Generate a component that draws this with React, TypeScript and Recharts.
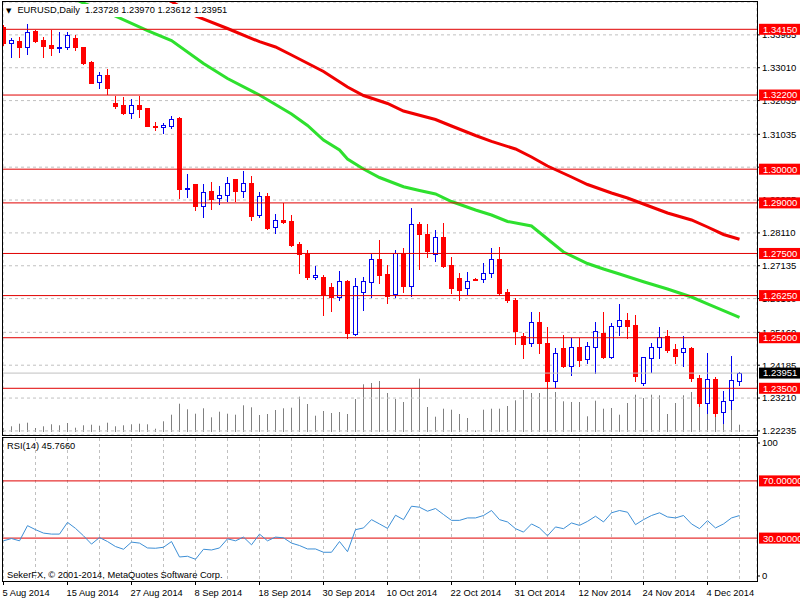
import React from "react";
import {
  ComposedChart,
  Bar,
  Line,
  XAxis,
  YAxis,
  CartesianGrid,
  ReferenceLine,
} from "recharts";

const FONT = "'Liberation Sans', Arial, sans-serif";
const FS = 9.3;
const AXIS_FS = 9.5;

// EURUSD daily bars, 5 Aug 2014 .. 10 Dec 2014 (one entry per bar)
const opens = [
  1.34227, 1.33752, 1.33811, 1.33616, 1.34099, 1.33832, 1.33684, 1.33586, 1.33616, 1.33901,
  1.33616, 1.33189, 1.32577, 1.32794, 1.31972, 1.31895, 1.31658, 1.31895, 1.31824, 1.31281,
  1.31266, 1.31281, 1.31509, 1.29403, 1.2956, 1.28916, 1.29352, 1.29136, 1.29234, 1.29699,
  1.29361, 1.29581, 1.28641, 1.29204, 1.28293, 1.28492, 1.28471, 1.2778, 1.27483, 1.26801,
  1.2681, 1.26504, 1.26217, 1.26682, 1.25101, 1.26356, 1.26662, 1.27335, 1.2689, 1.26297,
  1.27504, 1.26543, 1.28365, 1.28068, 1.27483, 1.27979, 1.27157, 1.26762, 1.26466, 1.26751,
  1.26733, 1.26929, 1.27326, 1.26365, 1.26119, 1.2506, 1.24834, 1.25457, 1.24853, 1.23725,
  1.24686, 1.24161, 1.24716, 1.2436, 1.24734, 1.25131, 1.24437, 1.25348, 1.25526, 1.25378,
  1.23666, 1.2439, 1.24716, 1.2506, 1.24666, 1.24586, 1.24704, 1.23796, 1.23055, 1.23767,
  1.22806, 1.23153, 1.23728,
];
const highs = [
  1.34277, 1.33883, 1.3393, 1.34307, 1.34129, 1.33912, 1.34129, 1.34079, 1.34079, 1.33981,
  1.3363, 1.33195, 1.32892, 1.32963, 1.32171, 1.32132, 1.32073, 1.3218, 1.3183, 1.31409,
  1.31361, 1.31578, 1.31548, 1.29857, 1.2957, 1.2956, 1.29611, 1.29501, 1.29777, 1.2971,
  1.29937, 1.29798, 1.29323, 1.29302, 1.2867, 1.28987, 1.28632, 1.27848, 1.27602, 1.27127,
  1.2686, 1.26623, 1.26979, 1.26712, 1.26763, 1.2681, 1.27484, 1.27899, 1.27157, 1.27602,
  1.27653, 1.28839, 1.28442, 1.28374, 1.28196, 1.28394, 1.27385, 1.26929, 1.26958, 1.26771,
  1.27207, 1.27653, 1.27682, 1.26445, 1.26169, 1.25131, 1.25772, 1.25772, 1.25327, 1.24686,
  1.25081, 1.24983, 1.24983, 1.24882, 1.25457, 1.25772, 1.25428, 1.26001, 1.25725, 1.25674,
  1.24437, 1.24853, 1.25327, 1.25229, 1.24814, 1.2506, 1.24734, 1.23894, 1.24538, 1.23826,
  1.2342, 1.24458, 1.2397,
];
const lows = [
  1.33684, 1.33319, 1.33337, 1.33408, 1.33782, 1.33337, 1.33387, 1.33467, 1.33565, 1.33536,
  1.3312, 1.32548, 1.32399, 1.3223, 1.31806, 1.31637, 1.31509, 1.31557, 1.31281, 1.31162,
  1.31082, 1.31213, 1.29136, 1.29183, 1.28789, 1.28572, 1.2881, 1.28967, 1.29065, 1.29065,
  1.29183, 1.28492, 1.28581, 1.28216, 1.28115, 1.28394, 1.27721, 1.26929, 1.26733, 1.26733,
  1.25674, 1.25801, 1.26119, 1.24983, 1.25081, 1.25822, 1.26217, 1.26623, 1.26021, 1.26199,
  1.26356, 1.26237, 1.2703, 1.27403, 1.27285, 1.27107, 1.26335, 1.26119, 1.26297, 1.26703,
  1.26662, 1.2681, 1.26267, 1.26059, 1.24813, 1.24389, 1.24755, 1.24556, 1.235, 1.23547,
  1.2414, 1.23894, 1.24161, 1.24241, 1.23962, 1.24407, 1.24399, 1.25081, 1.24983, 1.23725,
  1.23598, 1.23992, 1.2439, 1.24586, 1.24259, 1.24161, 1.23725, 1.22975, 1.22758, 1.22678,
  1.22461, 1.22877, 1.23612,
];
const closes = [
  1.33734, 1.33832, 1.33616, 1.34079, 1.33811, 1.33663, 1.33604, 1.33634, 1.33981, 1.33616,
  1.33159, 1.32565, 1.32785, 1.32399, 1.31874, 1.31658, 1.31895, 1.31785, 1.3129, 1.31251,
  1.31311, 1.31489, 1.29403, 1.2945, 1.28916, 1.29332, 1.29115, 1.29225, 1.29599, 1.29361,
  1.29581, 1.28611, 1.29204, 1.28264, 1.28492, 1.28433, 1.2775, 1.27483, 1.26792, 1.26846,
  1.26267, 1.26199, 1.26682, 1.25131, 1.26534, 1.26682, 1.27335, 1.2686, 1.26237, 1.27504,
  1.26543, 1.28365, 1.28068, 1.27572, 1.27979, 1.27128, 1.26466, 1.26415, 1.26682, 1.26721,
  1.26929, 1.27326, 1.26335, 1.26119, 1.25208, 1.24813, 1.25457, 1.24834, 1.23725, 1.24538,
  1.24161, 1.24716, 1.24339, 1.24755, 1.25208, 1.24437, 1.25348, 1.25526, 1.25357, 1.23865,
  1.24419, 1.24716, 1.2503, 1.24636, 1.24467, 1.24686, 1.23796, 1.23055, 1.23767, 1.22776,
  1.23132, 1.23746, 1.23951,
];
// tick volumes
const volumes = [
  4000, 5700, 8300, 9300, 4000, 5700, 7700, 6700, 9000, 4300, 6700, 7300, 6300, 9300, 5700,
  6700, 7700, 8300, 7700, 3300, 10700, 17300, 28300, 22700, 18300, 23700, 14700, 20300, 18300,
  17300, 26700, 24700, 17000, 18000, 22000, 23700, 24300, 35300, 28000, 16300, 21000, 19000,
  20000, 18000, 33000, 47700, 49000, 51000, 39000, 33000, 30000, 43000, 53300, 25000, 15300,
  23300, 22300, 18000, 14000, 1500, 22300, 23300, 23300, 26000, 31700, 42000, 39000, 39000,
  47300, 40000, 30700, 30000, 30000, 15700, 31300, 23300, 24000, 17300, 29000, 37300, 34000,
  37300, 36700, 18000, 29000, 36700, 40000, 38000, 35000, 36000, 40000, 30000, 7300,
];
const rsi14 = [
  28.1, 29.7, 28.1, 38.7, 35.9, 33.5, 32.8, 32.8, 41.0, 36.8, 31.6, 25.8, 30.4, 27.6, 24.1,
  22.2, 27.2, 26.5, 23.1, 22.9, 23.6, 27.6, 16.8, 17.3, 15.2, 22.2, 21.7, 23.1, 29.5, 28.1,
  30.7, 25.3, 32.8, 28.1, 30.7, 30.2, 26.5, 24.8, 22.4, 22.4, 20.1, 20.1, 27.6, 20.5, 35.9,
  37.1, 42.9, 39.9, 36.8, 46.0, 42.9, 52.3, 51.6, 48.8, 50.7, 46.5, 42.4, 42.4, 44.1, 44.1,
  45.8, 49.3, 42.9, 41.3, 36.6, 34.2, 39.9, 37.1, 31.6, 37.8, 36.6, 40.6, 38.9, 41.7, 45.3,
  41.3, 47.7, 49.3, 48.1, 39.4, 42.9, 45.8, 47.7, 44.8, 44.1, 45.8, 39.9, 36.6, 42.2, 37.1,
  39.9, 44.1, 45.766,
];
// moving averages: [bar index, value]
const maGreenPts: [number, number][] = [
  [8, 1.3514], [10, 1.3493], [14, 1.34544], [18, 1.34114], [21, 1.33818], [25, 1.33135],
  [28, 1.3269], [32, 1.32201], [36, 1.31637], [38, 1.31296], [40, 1.30866], [42, 1.30569],
  [43, 1.30302], [45, 1.30006], [47, 1.29753], [50, 1.2948], [52, 1.29368], [54, 1.29264],
  [56, 1.29041], [59, 1.28789], [61, 1.28641], [63, 1.28448], [66, 1.28315], [68, 1.27929],
  [70, 1.27543], [73, 1.27202], [75, 1.27039], [77, 1.26891], [80, 1.26662], [83, 1.26446],
  [86, 1.26208], [88, 1.26001], [90, 1.25802], [92, 1.25606],
];
const maRedPts: [number, number][] = [
  [19, 1.35167], [21, 1.34975], [24, 1.34544], [28, 1.34174], [32, 1.33782], [34, 1.33625],
  [36, 1.33387], [40, 1.32898], [43, 1.32438], [45, 1.32186], [48, 1.31949], [50, 1.31726],
  [54, 1.31474], [56, 1.31281], [59, 1.30999], [61, 1.30827], [64, 1.30599], [66, 1.30361],
  [68, 1.30094], [71, 1.29768], [73, 1.29546], [76, 1.29293], [78, 1.29145], [81, 1.28878],
  [83, 1.287], [86, 1.28493], [88, 1.28285], [90, 1.28063], [92, 1.2792],
];
const dateLabels = [
  "5 Aug 2014", "15 Aug 2014", "27 Aug 2014", "8 Sep 2014", "18 Sep 2014", "30 Sep 2014",
  "10 Oct 2014", "22 Oct 2014", "31 Oct 2014", "12 Nov 2014", "24 Nov 2014", "4 Dec 2014",
];
const priceTicks = [
  1.33985, 1.3301, 1.32035, 1.31035, 1.3006, 1.29085, 1.2811, 1.27135, 1.2616, 1.2516,
  1.24185, 1.2321, 1.22235,
];
const levels = [1.3415, 1.322, 1.3, 1.29, 1.275, 1.2625, 1.25, 1.235];
const lastPrice = 1.23951;
const rsiLevels = [70, 30];

const X_DOMAIN: [number, number] = [-0.0625, 94.1875];
const P_DOMAIN: [number, number] = [1.22114, 1.3496];
const gridTicks = Array.from({ length: 24 }, (_, k) => k * 4);

const BULL = "#0000f0";
const BEAR = "#ff0000";
const LEVEL = "#e00000";
const GRID = "#c0c0c0";

const greenMap = new Map(maGreenPts);
const redMap = new Map(maRedPts);

const data = opens.map((o, i) => ({
  i,
  o,
  h: highs[i],
  l: lows[i],
  c: closes[i],
  hl: [lows[i], highs[i]],
  vol: volumes[i],
  rsi: rsi14[i],
  maG: greenMap.has(i) ? greenMap.get(i) : null,
  maR: redMap.has(i) ? redMap.get(i) : null,
}));

function Candle(props: any) {
  const { x, y, width, height, payload } = props;
  if (!payload) return null;
  const cx = x + width / 2;
  const top = Math.min(y, y + height);
  const bot = Math.max(y, y + height);
  const span = payload.h - payload.l || 1e-9;
  const py = (p: number) => top + ((payload.h - p) / span) * (bot - top);
  const bull = payload.c >= payload.o;
  const col = bull ? BULL : BEAR;
  const rt = Math.round(py(Math.max(payload.o, payload.c)));
  const rb = Math.max(Math.round(py(Math.min(payload.o, payload.c))), rt + 1);
  return (
    <g>
      <line x1={cx} x2={cx} y1={Math.round(top)} y2={Math.round(bot) + 1} stroke={col} />
      {bull ? (
        <rect x={cx - 2} y={rt + 0.5} width={4} height={rb - rt} fill="#fff" stroke={col} />
      ) : (
        <rect x={cx - 2.5} y={rt} width={5} height={rb - rt + 1} fill={col} />
      )}
    </g>
  );
}

function VolLine(props: any) {
  const { x, y, width, height } = props;
  const cx = x + width / 2;
  return <line x1={cx} x2={cx} y1={y} y2={y + height} stroke="#808080" />;
}

function PriceTick(props: any) {
  const { x, y, payload } = props;
  return (
    <g>
      <line x1={x} x2={x + 3} y1={y} y2={y} stroke="#000" />
      <text x={x + 5} y={y + 3.4} fontSize={AXIS_FS} fontFamily={FONT} fill="#000">
        {Number(payload.value).toFixed(5)}
      </text>
    </g>
  );
}

function RsiTick(props: any) {
  const { x, y, payload } = props;
  const yy = payload.value === 100 ? y + 5 : y - 5;
  return (
    <g>
      <line x1={x} x2={x + 3} y1={yy} y2={yy} stroke="#000" />
      <text x={x + 5} y={yy + 3.4} fontSize={AXIS_FS} fontFamily={FONT} fill="#000">
        {payload.value}
      </text>
    </g>
  );
}

function DateTick(props: any) {
  const { x, y, payload } = props;
  const v = payload.value;
  if (v % 8 !== 0) return <g />;
  return (
    <g>
      <line x1={x} x2={x} y1={y} y2={y + 4} stroke="#000" />
      <text x={x - 1} y={y + 14.5} fontSize={FS} fontFamily={FONT} fill="#000">
        {dateLabels[v / 8]}
      </text>
    </g>
  );
}

const tag = (text: string, bg: string) => (props: any) => {
  const vb = props.viewBox || {};
  const x = vb.x + vb.width + 2;
  const y = vb.y;
  return (
    <g>
      <rect x={x} y={y - 5.5} width={50} height={11} fill={bg} />
      <text x={x + 4} y={y + 3.4} fontSize={AXIS_FS} fontFamily={FONT} fill="#fff">
        {text}
      </text>
    </g>
  );
};

const abs = (left: number, top: number): React.CSSProperties => ({
  position: "absolute",
  left,
  top,
});

export default function App() {
  return (
    <div
      style={{
        position: "absolute",
        left: 0,
        top: 0,
        width: 800,
        height: 600,
        background: "#fff",
        overflow: "hidden",
        fontFamily: FONT,
      }}
    >
      {/* volumes, underneath */}
      <div style={abs(0, 0)}>
        <ComposedChart width={800} height={437} data={data} margin={{ top: 2, right: 43, bottom: 2, left: 3 }}>
          <XAxis dataKey="i" type="number" domain={X_DOMAIN} hide allowDataOverflow />
          <YAxis domain={[-3000, 430000]} hide allowDataOverflow />
          <Bar dataKey="vol" barSize={4} shape={(p: any) => <VolLine {...p} />} isAnimationActive={false} />
        </ComposedChart>
      </div>

      {/* price panel */}
      <div style={abs(0, 0)}>
        <ComposedChart width={800} height={437} data={data} margin={{ top: 2, right: 0, bottom: 2, left: 3 }}>
          <CartesianGrid stroke={GRID} strokeDasharray="3 3" />
          <XAxis
            dataKey="i"
            type="number"
            domain={X_DOMAIN}
            ticks={gridTicks}
            interval={0}
            height={0}
            tick={false}
            axisLine={false}
            tickLine={false}
            allowDataOverflow
          />
          <YAxis
            orientation="right"
            width={43}
            domain={P_DOMAIN}
            ticks={priceTicks}
            interval={0}
            axisLine={false}
            tickLine={false}
            tickSize={0}
            tickMargin={0}
            tick={(p: any) => <PriceTick {...p} />}
            allowDataOverflow
          />
          <Line dataKey="maR" stroke="#f00000" strokeWidth={3} dot={false} connectNulls isAnimationActive={false} />
          <Line dataKey="maG" stroke="#2ee02e" strokeWidth={3} dot={false} connectNulls isAnimationActive={false} />
          <Bar dataKey="hl" barSize={6} shape={(p: any) => <Candle {...p} />} isAnimationActive={false} />
        </ComposedChart>
      </div>

      {/* horizontal levels and price tags on top */}
      <div style={abs(0, 0)}>
        <ComposedChart width={800} height={437} data={data} margin={{ top: 2, right: 43, bottom: 2, left: 3 }}>
          <XAxis dataKey="i" type="number" domain={X_DOMAIN} hide allowDataOverflow />
          <YAxis domain={P_DOMAIN} hide allowDataOverflow />
          <ReferenceLine y={lastPrice} stroke={GRID} label={{ content: tag(lastPrice.toFixed(5), "#000") }} />
          {levels.map((lv) => (
            <ReferenceLine key={lv} y={lv} stroke={LEVEL} label={{ content: tag(lv.toFixed(5), BEAR) }} />
          ))}
        </ComposedChart>
      </div>

      {/* RSI panel */}
      <div style={abs(0, 437)}>
        <ComposedChart width={800} height={163} data={data} margin={{ top: 1, right: 0, bottom: 0, left: 3 }}>
          <CartesianGrid horizontal={false} stroke={GRID} strokeDasharray="3 3" />
          <XAxis
            dataKey="i"
            type="number"
            domain={X_DOMAIN}
            ticks={gridTicks}
            interval={0}
            height={19}
            axisLine={false}
            tickLine={false}
            tickSize={0}
            tickMargin={0}
            tick={(p: any) => <DateTick {...p} />}
            allowDataOverflow
          />
          <YAxis
            orientation="right"
            width={43}
            domain={[0, 100]}
            ticks={[0, 100]}
            interval={0}
            axisLine={false}
            tickLine={false}
            tickSize={0}
            tickMargin={0}
            tick={(p: any) => <RsiTick {...p} />}
            allowDataOverflow
          />
          {rsiLevels.map((lv) => (
            <ReferenceLine key={lv} y={lv} stroke={LEVEL} label={{ content: tag(lv.toFixed(6), BEAR) }} />
          ))}
          <Line dataKey="rsi" stroke="#3d8fd6" strokeWidth={1} dot={false} isAnimationActive={false} />
        </ComposedChart>
      </div>

      {/* window frames */}
      <div style={{ ...abs(2, 1), width: 756, height: 435, border: "1px solid #000", boxSizing: "border-box", pointerEvents: "none" }} />
      <div style={{ ...abs(2, 437), width: 756, height: 145, border: "1px solid #000", boxSizing: "border-box", pointerEvents: "none" }} />

      {/* texts */}
      <div
        style={{
          ...abs(5, 4),
          height: 13,
          lineHeight: "13px",
          fontSize: FS,
          background: "#fff",
          paddingRight: 2,
          whiteSpace: "pre",
          color: "#000",
        }}
      >
        <span style={{ fontFamily: "'DejaVu Sans'", fontSize: 7, marginRight: 6, marginLeft: 1 }}>▼</span>
        {"EURUSD,Daily  1.23728 1.23970 1.23612 1.23951"}
      </div>
      <div style={{ ...abs(7, 440), lineHeight: "12px", fontSize: FS, whiteSpace: "pre" }}>RSI(14) 45.7660</div>
      <div style={{ ...abs(7, 569), lineHeight: "12px", fontSize: FS, whiteSpace: "pre" }}>
        SekerFX, © 2001-2014, MetaQuotes Software Corp.
      </div>
    </div>
  );
}
